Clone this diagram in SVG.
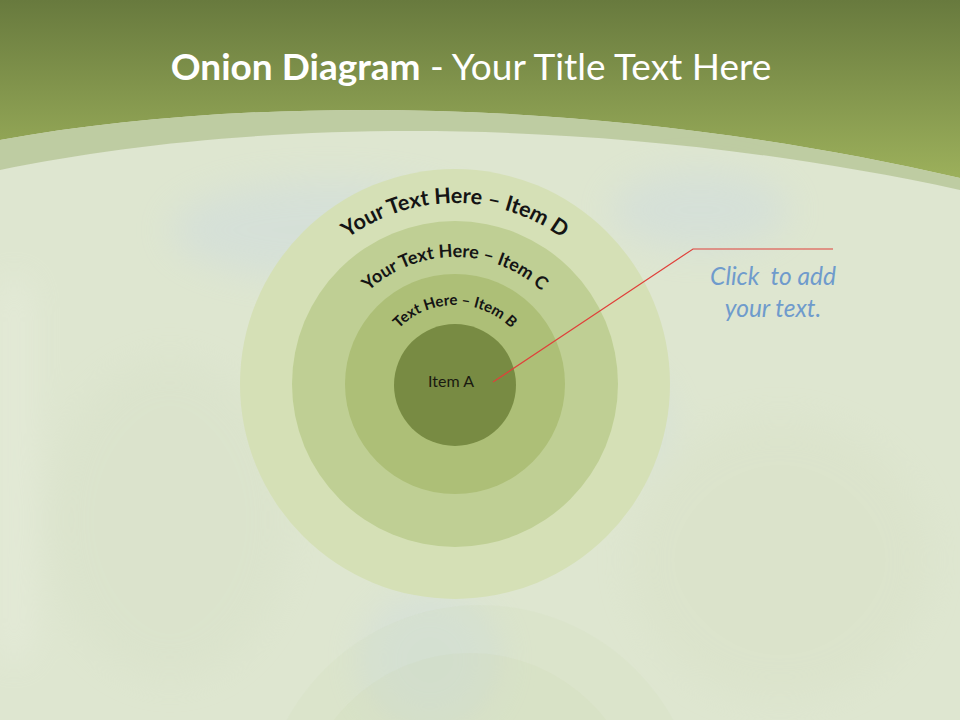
<svg xmlns="http://www.w3.org/2000/svg" width="960" height="720" viewBox="0 0 960 720">
  <style>
    .title { font-family: Lato, "Open Sans", sans-serif; font-size: 37px; fill: #ffffff; }
    .arc { font-family: Lato, "Open Sans", sans-serif; font-weight: bold; fill: #141414; }
    .lbl { font-family: Lato, "Open Sans", sans-serif; font-size: 16px; fill: #1a1a10; }
    .note { font-family: Lato, "Open Sans", sans-serif; font-style: italic; font-size: 24.5px; fill: #6f9bcc; }
  </style>
  <defs>
    <linearGradient id="topg" x1="0" y1="0" x2="0" y2="1">
      <stop offset="0" stop-color="#687a3e"/>
      <stop offset="1" stop-color="#9cb05b"/>
    </linearGradient>
    <filter id="blur" x="-50%" y="-50%" width="200%" height="200%">
      <feGaussianBlur stdDeviation="18"/>
    </filter>
    <path id="pD" d="M 274,384 A 181,181 0 0 1 636,384"/>
    <path id="pC" d="M 328,384 A 127,127 0 0 1 582,384"/>
    <path id="pB" d="M 376,384 A 79,79 0 0 1 534,384"/>
  </defs>

  <!-- background -->
  <rect x="0" y="0" width="960" height="720" fill="#dee6d0"/>
  <g filter="url(#blur)" opacity="0.35">
    <ellipse cx="330" cy="230" rx="160" ry="50" fill="#c6d6e6"/>
    <ellipse cx="700" cy="210" rx="90" ry="40" fill="#c6d6e6"/>
    <ellipse cx="600" cy="420" rx="70" ry="60" fill="#cbd9e2"/>
    <ellipse cx="430" cy="660" rx="70" ry="70" fill="#c9d8e3"/>
    <ellipse cx="170" cy="520" rx="120" ry="160" fill="#d6dfc6"/>
    <ellipse cx="780" cy="560" rx="150" ry="140" fill="#d7dfc4"/>
    <rect x="0" y="280" width="28" height="380" fill="#f2f4ea"/>
  </g>
  <path d="M0,0 H960 V178 C600,95 250,95 0,140 Z" fill="url(#topg)"/>
  <path d="M0,140 C250,95 600,95 960,178 V190 C600,112 250,118 0,170 Z" fill="#b9c79a" opacity="0.85"/>
  <circle cx="480" cy="825" r="220" fill="#c9d4a8" opacity="0.1"/>
  <circle cx="470" cy="825" r="172" fill="#b9c98f" opacity="0.08"/>

  <!-- title -->
  <text class="title" x="471" y="80" text-anchor="middle"><tspan font-weight="bold">Onion Diagram</tspan> - Your Title Text Here</text>

  <!-- nodes -->
  <g id="item-d">
    <circle cx="455" cy="384" r="215" fill="#d5e0b6"/>
    <text class="arc" font-size="21.5"><textPath href="#pD" startOffset="50%" text-anchor="middle">Your Text Here – Item D</textPath></text>
  </g>
  <g id="item-c">
    <circle cx="455" cy="384" r="163" fill="#bfcf94"/>
    <text class="arc" font-size="18"><textPath href="#pC" startOffset="50%" text-anchor="middle">Your Text Here – Item C</textPath></text>
  </g>
  <g id="item-b">
    <circle cx="455" cy="384" r="110" fill="#adbf77"/>
    <text class="arc" font-size="15"><textPath href="#pB" startOffset="50%" text-anchor="middle">Text Here – Item B</textPath></text>
  </g>
  <g id="item-a">
    <circle cx="455" cy="385" r="61" fill="#788b43"/>
    <text class="lbl" x="451" y="387" text-anchor="middle">Item A</text>
  </g>

  <!-- connectors -->
  <g id="connectors">
    <polyline points="493,382 693,249 833,249" fill="none" stroke="#e0403a" stroke-width="1.2"/>
  </g>

  <g id="note">
    <text class="note" x="773" y="285" text-anchor="middle" xml:space="preserve">Click  to add</text>
    <text class="note" x="773" y="317" text-anchor="middle">your text.</text>
  </g>
</svg>
